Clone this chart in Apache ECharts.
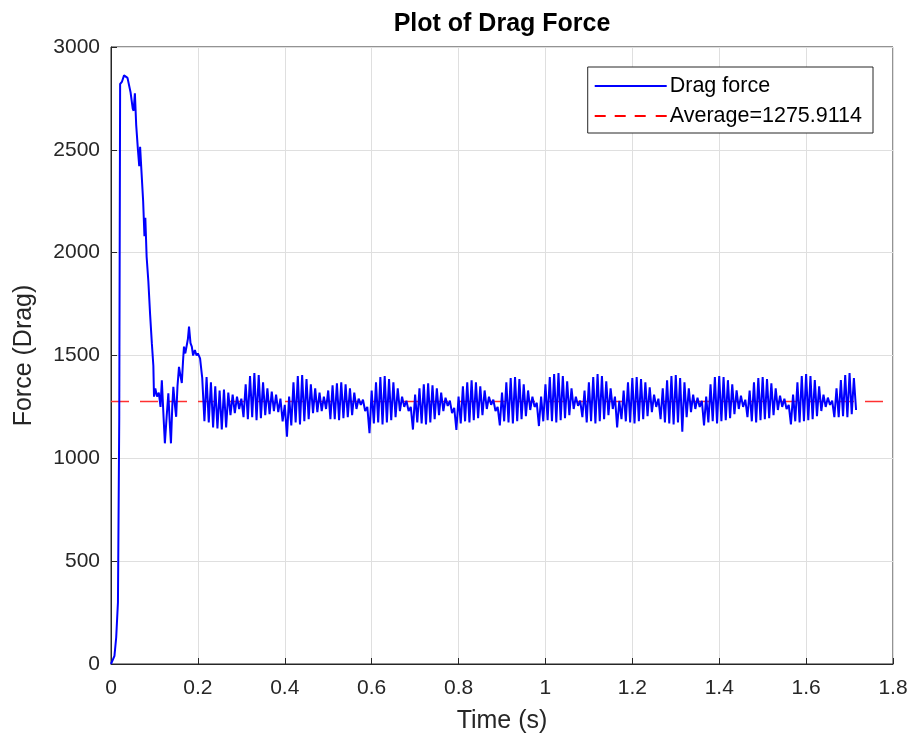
<!DOCTYPE html>
<html>
<head>
<meta charset="utf-8">
<script src="https://cdn.jsdelivr.net/npm/echarts@6/dist/echarts.min.js"></script>
<style>html,body{margin:0;padding:0;background:#fff;}#c{width:914px;height:745px;}</style>
</head>
<body>
<div id="c"></div>
<script>
// Start-up transient: explicit time stamps (s) and drag force
var timeEarly = [0.000,0.004,0.008,0.012,0.016,0.019,0.021,0.025,0.030,0.034,0.038,0.041,0.045,0.050,0.052,0.055,0.058,0.062,0.065,0.067,0.070,0.074,0.077,0.079,0.082,0.086,0.090,0.094,0.0975,0.099,0.102,0.106,0.110,0.114,0.117,0.121,0.124,0.128,0.132,0.135,0.138,0.141,0.1435,0.147,0.150,0.153,0.1565,0.160,0.163,0.166,0.168,0.171,0.174,0.177,0.1796,0.183,0.186,0.189,0.193,0.197,0.200,0.205];
var forceEarly = [0,0,40,130,300,1200,2820,2830,2862,2855,2850,2855,2780,2700,2690,2775,2620,2500,2420,2515,2400,2250,2080,2170,1980,1860,1700,1560,1450,1300,1340,1300,1320,1250,1380,1200,1073,1200,1316,1180,1073,1250,1348,1260,1202,1350,1445,1400,1366,1480,1543,1510,1502,1580,1640,1560,1543,1500,1526,1500,1510,1486];

// Oscillating regime: sampled every 0.005 s starting at 0.21 s
var oscStart = 0.21;
var oscStep = 0.005;
var forceOsc = [
1390,1180,1395,1175,1370,1150,1350,1145,1330,1140,1335,1150,1320,1210,1310,1220,1300,1240,1290,1200,
1360,1190,1400,1200,1415,1185,1405,1195,1370,1210,1340,1215,1325,1230,1310,1225,1290,1180,1260,1105,
1300,1160,1370,1175,1400,1165,1405,1180,1385,1190,1360,1220,1340,1225,1320,1230,1300,1240,1330,1190,
1355,1190,1365,1185,1370,1195,1360,1200,1340,1210,1320,1240,1290,1260,1285,1230,1250,1122,1330,1170,
1370,1175,1395,1165,1400,1175,1385,1185,1370,1200,1340,1230,1300,1250,1280,1230,1250,1140,1310,1175,
1340,1170,1360,1165,1365,1175,1355,1190,1340,1210,1320,1230,1295,1255,1280,1220,1245,1138,1300,1170,
1350,1180,1370,1175,1380,1185,1370,1195,1350,1210,1330,1240,1300,1260,1285,1230,1250,1160,1320,1180,
1370,1175,1390,1170,1395,1180,1385,1190,1360,1205,1330,1235,1300,1250,1270,1157,1300,1180,1360,1185,
1395,1180,1410,1175,1415,1185,1400,1195,1375,1210,1340,1240,1300,1255,1280,1200,1330,1175,1370,1180,
1395,1170,1410,1180,1400,1190,1375,1210,1340,1240,1300,1150,1280,1190,1330,1180,1370,1175,1390,1170,
1395,1180,1385,1190,1370,1205,1345,1225,1310,1250,1290,1190,1340,1175,1380,1170,1400,1165,1405,1175,
1390,1130,1370,1200,1340,1225,1310,1240,1295,1250,1280,1160,1300,1175,1360,1180,1395,1170,1400,1180,
1395,1185,1380,1195,1360,1215,1330,1240,1305,1250,1285,1200,1330,1180,1370,1175,1390,1185,1395,1190,
1385,1195,1365,1210,1340,1235,1305,1250,1290,1240,1260,1165,1310,1180,1370,1175,1400,1180,1410,1185,
1400,1190,1380,1205,1350,1230,1310,1250,1295,1260,1280,1200,1340,1200,1380,1205,1405,1200,1415,1215,
1390,1235
];

var averageValue = 1275.9114;
var xTicks = {min: 0, max: 1.8, interval: 0.2};
var yTicks = {min: 0, max: 3000, interval: 500};

var dragData = [];
for (var i = 0; i < timeEarly.length; i++) dragData.push([timeEarly[i], forceEarly[i]]);
for (var j = 0; j < forceOsc.length; j++) dragData.push([+(oscStart + j * oscStep).toFixed(4), forceOsc[j]]);

var axisColor = '#262626';
var font = 'Liberation Sans, Arial, Helvetica, sans-serif';

var chart = echarts.init(document.getElementById('c'), null, {renderer: 'canvas'});
chart.setOption({
  animation: false,
  backgroundColor: '#ffffff',
  title: {
    text: 'Plot of Drag Force',
    left: 502, top: 12, textAlign: 'center', padding: 0,
    textStyle: {fontFamily: font, fontSize: 25, fontWeight: 'bold', color: '#000'}
  },
  grid: {left: 111, right: 21, top: 47, bottom: 81, show: true, borderColor: axisColor, borderWidth: 1, backgroundColor: '#fff'},
  legend: {
    right: 41, top: 67, orient: 'vertical',
    backgroundColor: '#fff', borderColor: axisColor, borderWidth: 1,
    padding: [8, 11, 6, 7], itemGap: 8, itemWidth: 72, itemHeight: 2,
    symbolKeepAspect: false,
    textStyle: {fontFamily: font, fontSize: 21.5, color: '#000', padding: [0, 0, 0, -2]},
    data: [
      {name: 'Drag force', icon: 'path://M0,0h72v1h-72z'},
      {name: 'Average=1275.9114', icon: 'path://M0,0h11v1h-11z M20,0h11v1h-11z M40,0h11v1h-11z M61,0h11v1h-11z'}
    ]
  },
  xAxis: {
    type: 'value', min: xTicks.min, max: xTicks.max, interval: xTicks.interval,
    name: 'Time (s)', nameLocation: 'middle', nameGap: 45,
    nameTextStyle: {fontFamily: font, fontSize: 25, color: axisColor},
    axisLine: {show: true, lineStyle: {color: axisColor}},
    axisTick: {show: true, inside: true, length: 6, lineStyle: {color: axisColor}},
    axisLabel: {fontFamily: font, fontSize: 21, color: axisColor, margin: 14},
    splitLine: {show: true, lineStyle: {color: '#dfdfdf'}}
  },
  yAxis: {
    type: 'value', min: yTicks.min, max: yTicks.max, interval: yTicks.interval,
    name: 'Force (Drag)', nameLocation: 'middle', nameGap: 74,
    nameTextStyle: {fontFamily: font, fontSize: 25, color: axisColor},
    axisLine: {show: true, lineStyle: {color: axisColor}},
    axisTick: {show: true, inside: true, length: 6, lineStyle: {color: axisColor}},
    axisLabel: {fontFamily: font, fontSize: 21, color: axisColor, margin: 11,
      formatter: function (v) { return String(v); }},
    splitLine: {show: true, lineStyle: {color: '#dfdfdf'}}
  },
  series: [
    {
      name: 'Drag force', type: 'line', data: dragData, symbol: 'none',
      color: '#0000ff',
      lineStyle: {color: '#0000ff', width: 2}, itemStyle: {color: '#0000ff'}, z: 3
    },
    {
      name: 'Average=1275.9114', type: 'line', symbol: 'none',
      color: '#ff0000',
      data: [[xTicks.min, averageValue], [xTicks.max, averageValue]],
      lineStyle: {color: '#ff3030', width: 1.5, type: [18, 11]}, itemStyle: {color: '#ff0000'}, z: 2
    }
  ]
});
</script>
</body>
</html>
